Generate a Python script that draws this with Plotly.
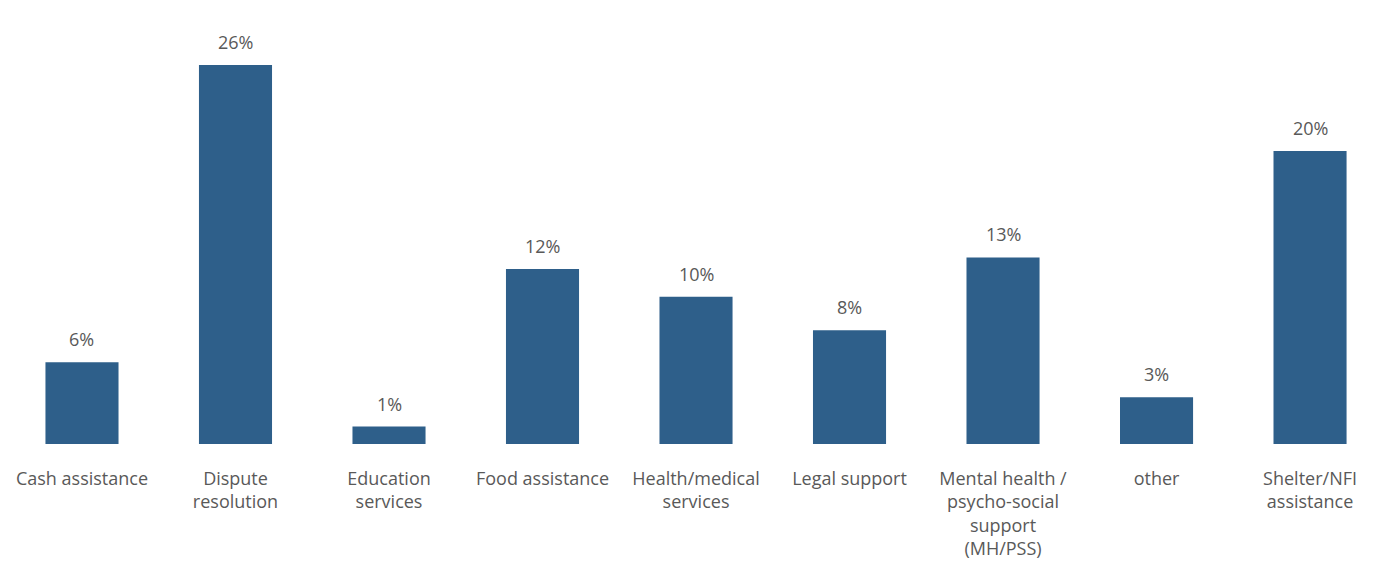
import plotly.graph_objects as go

# categories (tick labels wrapped the way the original chart wraps them)
categories = [
    "Cash assistance",
    "Dispute<br>resolution",
    "Education<br>services",
    "Food assistance",
    "Health/medical<br>services",
    "Legal support",
    "Mental health /<br>psycho-social<br>support<br>(MH/PSS)",
    "other",
    "Shelter/NFI<br>assistance",
]

# share of respondents (%)
values = [5.6, 26.0, 1.2, 12.0, 10.1, 7.8, 12.8, 3.2, 20.1]

# labels printed above the bars
value_labels = ["6%", "26%", "1%", "12%", "10%", "8%", "13%", "3%", "20%"]

bar_color = "#2E5F8A"
text_color = "#595959"
font_family = "Open Sans, Lato, sans-serif"

fig = go.Figure()

fig.add_bar(
    x=list(range(len(categories))),
    y=values,
    marker=dict(color=bar_color, line=dict(width=0)),
    hoverinfo="skip",
)

# value labels above each bar
for i, (val, lab) in enumerate(zip(values, value_labels)):
    fig.add_annotation(
        x=i,
        y=val,
        text=lab,
        showarrow=False,
        yanchor="bottom",
        yshift=9,
        font=dict(size=18, color=text_color, family=font_family),
    )

# page body adds an 8px offset, so the figure is sized to the remaining area
fig.update_layout(
    width=1388,
    height=558,
    margin=dict(l=0, r=0, t=0, b=122, autoexpand=False),
    paper_bgcolor="white",
    plot_bgcolor="white",
    bargap=0.524,
    showlegend=False,
    font=dict(family=font_family, color=text_color, size=18),
)

fig.update_xaxes(
    range=[-0.482, 8.56],
    tickmode="array",
    tickvals=list(range(len(categories))),
    ticktext=categories,
    showline=False,
    showgrid=False,
    zeroline=False,
    ticks="",
    tickfont=dict(size=18, color=text_color, family=font_family),
    ticklabelstandoff=22,
    automargin=False,
)

fig.update_yaxes(
    range=[0, 29.91],
    visible=False,
    showgrid=False,
    zeroline=False,
)

fig.write_html("out.html")
